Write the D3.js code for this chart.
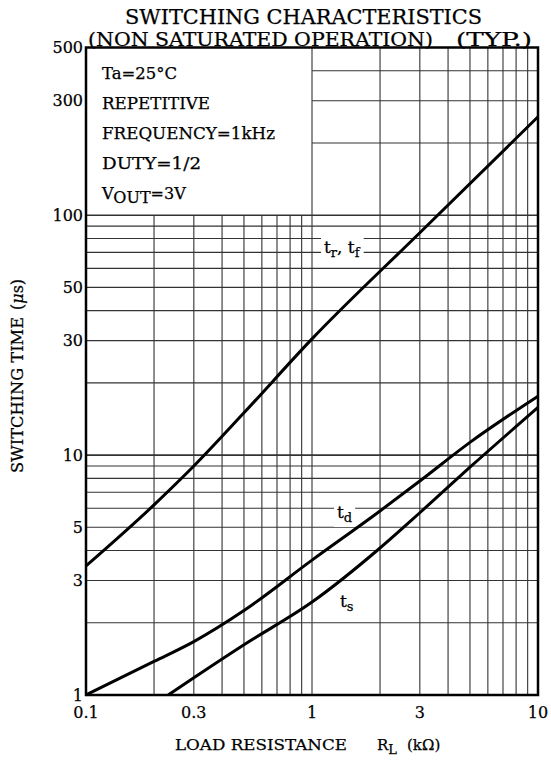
<!DOCTYPE html>
<html>
<head>
<meta charset="utf-8">
<script src="https://cdn.jsdelivr.net/npm/d3@7"></script>
<style>
  body { margin: 0; background: #fff; }
  text { font-family: "DejaVu Serif", "Liberation Serif", serif; fill: #000; stroke: #000; stroke-width: 0.25px; }
</style>
</head>
<body>
<svg id="chart" width="551" height="761"></svg>
<script>
// Data (x: kOhm, y: microseconds)
var data_trtf = [[0.1, 3.45], [0.2, 6.2], [0.3, 9.0], [0.5, 15.0], [1, 30.5], [3, 84.5], [10, 257]];
var data_td = [[0.1, 1.0], [0.2, 1.38], [0.3, 1.67], [0.5, 2.25], [1, 3.65], [2, 5.85], [3, 7.8], [5, 11.3], [10, 17.6]];
var data_ts = [[0.231, 1.0], [0.3, 1.18], [0.5, 1.62], [1, 2.44], [2, 4.1], [3, 5.75], [5, 8.9], [10, 15.8]];

var xTicks = [0.1, 0.3, 1, 3, 10];
var yTicks = [1, 3, 5, 10, 30, 50, 100, 300, 500];
var xGrid = [0.2, 0.3, 0.4, 0.5, 0.6, 0.7, 0.8, 0.9, 1, 2, 3, 4, 5, 6, 7, 8, 9];
var yGrid = [2, 3, 4, 5, 6, 7, 8, 9, 10, 20, 30, 40, 50, 60, 70, 80, 90, 100, 200, 300, 400];
var conditions = ["Ta=25°C", "REPETITIVE", "FREQUENCY=1kHz", "DUTY=1/2"];

function init() {
  var svg = d3.select("#chart");
  var left = 86, right = 538, top = 47.5, bottom = 695;

  var x = d3.scaleLog().domain([0.1, 10]).range([left, right]);
  var y = d3.scaleLog().domain([1, 500]).range([bottom, top]);

  svg.append("rect").attr("width", 551).attr("height", 761).attr("fill", "#fff");

  // grid (upper left corner is kept clear for the conditions box)
  var grid = svg.append("g").attr("stroke", "#333").attr("stroke-width", 1.1);
  grid.selectAll("line.v")
      .data(xGrid)
      .enter()
      .append("line")
      .attr("x1", function(d) { return x(d); })
      .attr("x2", function(d) { return x(d); })
      .attr("y1", bottom)
      .attr("y2", function(d) { return d < 1 ? y(100) : top; });
  grid.selectAll("line.h")
      .data(yGrid)
      .enter()
      .append("line")
      .attr("y1", function(d) { return y(d); })
      .attr("y2", function(d) { return y(d); })
      .attr("x1", function(d) { return d > 100 ? x(1) : left; })
      .attr("x2", right)
      .attr("stroke-width", function(d) { return (d == 10 || d == 100) ? 1.6 : 1.1; });

  // frame
  svg.append("rect")
     .attr("x", left).attr("y", top)
     .attr("width", right - left).attr("height", bottom - top)
     .attr("fill", "none").attr("stroke", "#000").attr("stroke-width", 2.5);

  // curves
  var line = d3.line()
               .x(function(d) { return x(d[0]); })
               .y(function(d) { return y(d[1]); })
               .curve(d3.curveMonotoneX);
  [data_trtf, data_td, data_ts].forEach(function(s) {
    svg.append("path")
       .attr("d", line(s))
       .attr("fill", "none")
       .attr("stroke", "#000")
       .attr("stroke-width", 3);
  });

  // curve labels with white backing
  function curveLabel(px, py, main, sub, main2, sub2) {
    var g = svg.append("g");
    var bg = g.append("rect").attr("fill", "#fff");
    var t = g.append("text").attr("x", px).attr("y", py).attr("font-size", 17);
    t.append("tspan").text(main);
    t.append("tspan").attr("font-size", 13).attr("dy", 4).text(sub);
    if (main2) {
      t.append("tspan").attr("dy", -4).text(", " + main2);
      t.append("tspan").attr("font-size", 13).attr("dy", 4).text(sub2);
    }
    var b = t.node().getBBox();
    bg.attr("x", b.x - 3).attr("y", b.y - 2).attr("width", b.width + 6).attr("height", b.height + 4);
  }
  curveLabel(324, 253, "t", "r", "t", "f");
  curveLabel(337, 518, "t", "d");
  curveLabel(340, 607, "t", "s");

  // axis tick labels
  svg.selectAll("text.ytick")
     .data(yTicks)
     .enter()
     .append("text")
     .attr("x", 83)
     .attr("y", function(d) { return y(d); })
     .attr("dy", "0.35em")
     .attr("text-anchor", "end")
     .attr("font-size", 16)
     .text(function(d) { return d; });
  svg.selectAll("text.xtick")
     .data(xTicks)
     .enter()
     .append("text")
     .attr("x", function(d) { return x(d); })
     .attr("y", 718)
     .attr("text-anchor", "middle")
     .attr("font-size", 16)
     .text(function(d) { return d; });

  // conditions box text
  var widths = [75, 108, 173, 99];
  conditions.forEach(function(c, i) {
    svg.append("text")
       .attr("x", 102).attr("y", 79 + i * 30)
       .attr("font-size", 16)
       .attr("textLength", widths[i]).attr("lengthAdjust", "spacingAndGlyphs")
       .text(c);
  });
  var vout = svg.append("text").attr("x", 102).attr("y", 199).attr("font-size", 16);
  vout.append("tspan").text("V");
  vout.append("tspan").attr("dy", 4).text("OUT");
  vout.append("tspan").attr("dy", -4).text("=3V");

  // title
  svg.append("text").attr("x", 125).attr("y", 24).attr("font-size", 21)
     .attr("textLength", 357).attr("lengthAdjust", "spacingAndGlyphs")
     .text("SWITCHING CHARACTERISTICS");
  svg.append("text").attr("x", 88).attr("y", 46).attr("font-size", 19)
     .attr("textLength", 345).attr("lengthAdjust", "spacingAndGlyphs")
     .text("(NON SATURATED OPERATION)");
  svg.append("text").attr("x", 456).attr("y", 46).attr("font-size", 19)
     .attr("textLength", 76).attr("lengthAdjust", "spacingAndGlyphs")
     .text("(TYP.)");

  // axis titles
  svg.append("text").attr("x", 175).attr("y", 750).attr("font-size", 15)
     .attr("textLength", 172).attr("lengthAdjust", "spacingAndGlyphs")
     .text("LOAD RESISTANCE");
  var rl = svg.append("text").attr("x", 377).attr("y", 750).attr("font-size", 15);
  rl.append("tspan").text("R");
  rl.append("tspan").attr("dy", 4).attr("font-size", 13).text("L");
  svg.append("text").attr("x", 407).attr("y", 750).attr("font-size", 15).text("(kΩ)");

  var yt = svg.append("text")
              .attr("transform", "translate(23,473) rotate(-90)")
              .attr("font-size", 16);
  yt.append("tspan").attr("textLength", 156).attr("lengthAdjust", "spacingAndGlyphs").text("SWITCHING TIME");
  yt.append("tspan").attr("x", 163).text("(");
  yt.append("tspan").attr("font-style", "italic").text("μ");
  yt.append("tspan").text("s)");
}

init();
</script>
</body>
</html>
